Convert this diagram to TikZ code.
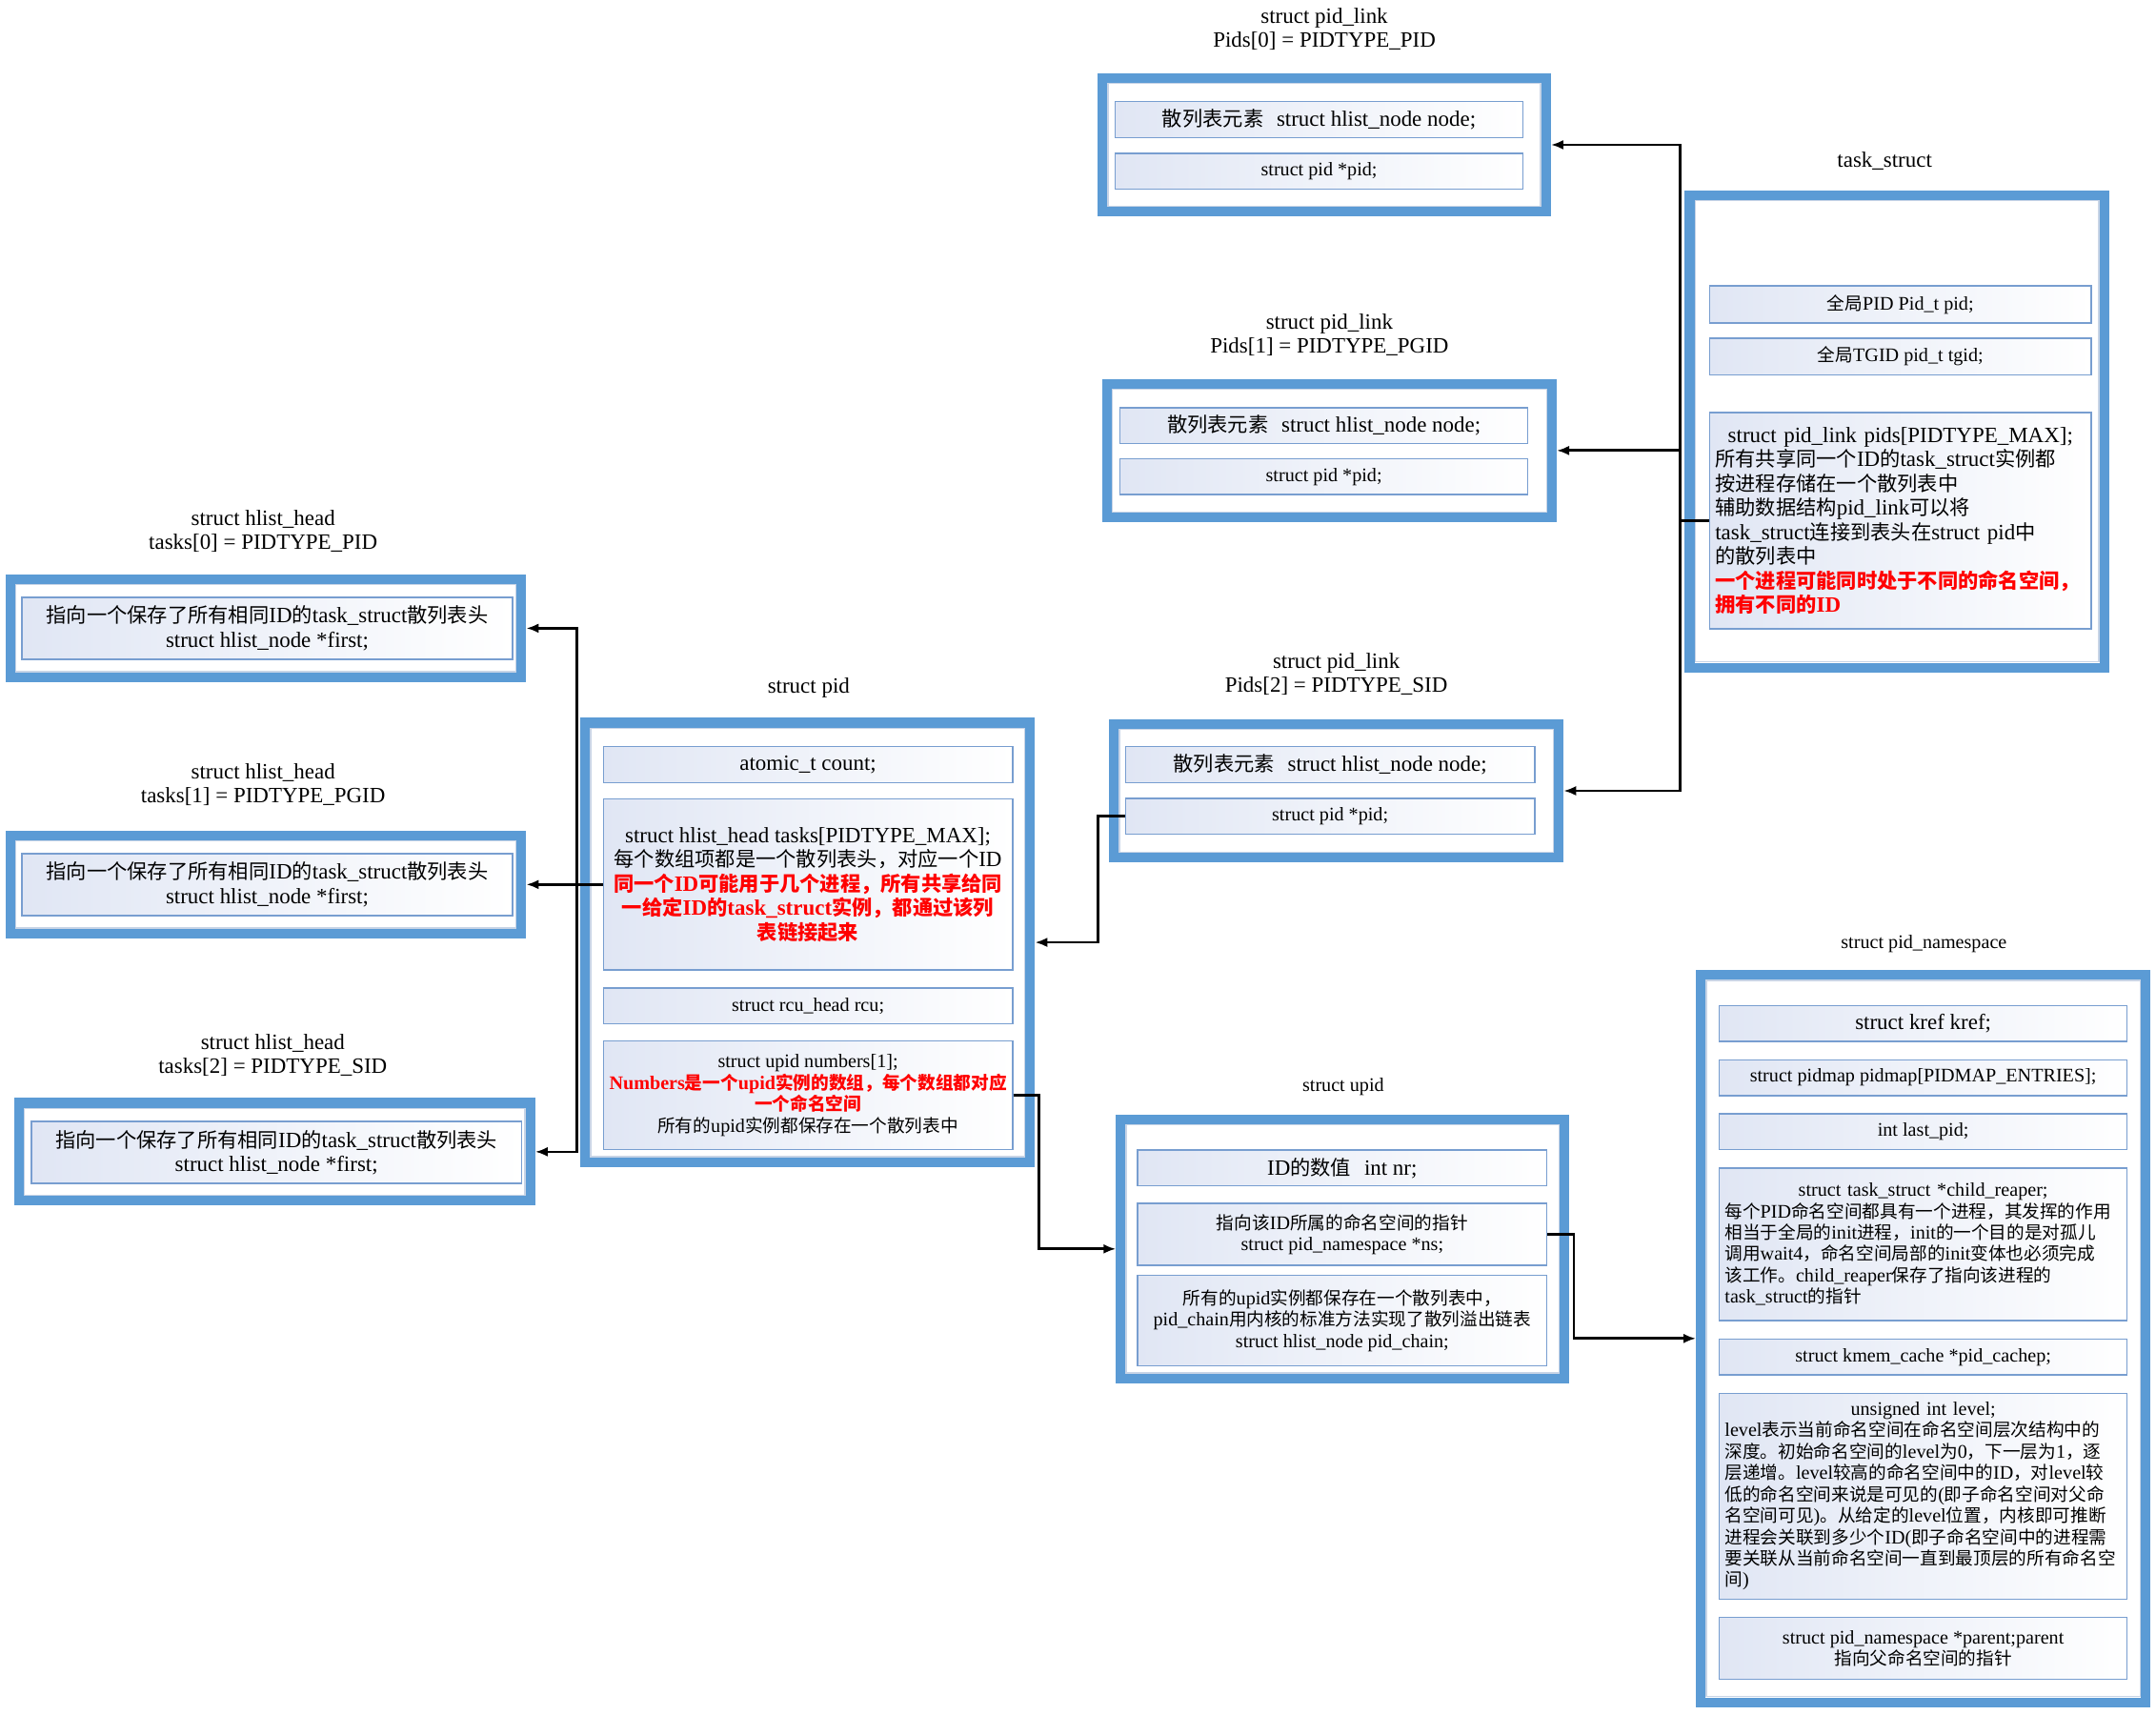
\documentclass[tikz,border=0pt]{standalone}
\usepackage{fontspec}
\usetikzlibrary{arrows.meta}
\setmainfont{Liberation Serif}[Scale=1.08]
\newfontfamily\cjkfam{Noto Sans CJK SC}
\XeTeXinterchartokenstate=1
\newXeTeXintercharclass\CJKcls
\makeatletter
\def\setcjkrange#1#2{\count@=#1\relax\loop\XeTeXcharclass\count@=\CJKcls\relax\ifnum\count@<#2\relax\advance\count@\@ne\repeat}
\setcjkrange{"3000}{"303F}
\setcjkrange{"4E00}{"9FFF}
\setcjkrange{"FF00}{"FFEF}
\makeatother
\XeTeXinterchartoks 0 \CJKcls={\cjkfam}
\XeTeXinterchartoks 4095 \CJKcls={\cjkfam}
\XeTeXinterchartoks \CJKcls 0={\rmfamily}
\XeTeXinterchartoks \CJKcls 4095={\rmfamily}
\definecolor{bordblue}{RGB}{91,155,213}
\definecolor{fldline}{RGB}{120,158,208}
\definecolor{fldfill}{RGB}{224,230,244}
\definecolor{innerln}{RGB}{200,212,230}
\newcommand\fL{\fontsize{14.7}{17.6}\selectfont}
\newcommand\fS{\fontsize{12.9}{15.5}\selectfont}
\newcommand\rb[1]{{\color{red}\bfseries #1}}
\newcommand\innerframe[1]{\draw[draw=innerln, line width=0.9pt] ([xshift=7.5pt,yshift=-7.5pt]#1.north west) rectangle ([xshift=-7.5pt,yshift=7.5pt]#1.south east);}
\begin{document}
\begin{tikzpicture}[x=1pt,y=-1pt,
  obox/.style={draw=bordblue, line width=7pt, fill=white, inner sep=0pt},
  fld/.style={draw=fldline, line width=1pt, left color=fldfill, right color=white, inner sep=3pt, align=center, font=\fS},
  fldL/.style={fld, font=\fL},
  ttl/.style={align=center, inner sep=0pt, font=\fL},
  ttlS/.style={ttl, font=\fS},
  conn/.style={draw=black, line width=1.9pt},
  arr/.style={conn, -{Latex[length=9pt,width=7pt]}}]
\fill[white] (0,0) rectangle (1565,1244.8);
\useasboundingbox (0,0) rectangle (1565,1244.8);

% ---- outer boxes ----
\node[obox, minimum width=322, minimum height=97] (pl0) at (961.3,105.1) {};
\node[obox, minimum width=323, minimum height=97] (pl1) at (965,327) {};
\node[obox, minimum width=323, minimum height=97] (pl2) at (970,574) {};
\node[obox, minimum width=301, minimum height=343] (task) at (1377,313) {};
\node[obox, minimum width=371, minimum height=71] (h0) at (193,456) {};
\node[obox, minimum width=371, minimum height=71] (h1) at (193,642) {};
\node[obox, minimum width=371.5, minimum height=71] (h2) at (199.3,836) {};
\node[obox, minimum width=323, minimum height=319] (pid) at (586.3,684) {};
\node[obox, minimum width=322, minimum height=188] (upid) at (974.5,906.5) {};
\node[obox, minimum width=323, minimum height=528] (pns) at (1396,971.5) {};
\innerframe{pl0}\innerframe{pl1}\innerframe{pl2}\innerframe{task}
\innerframe{h0}\innerframe{h1}\innerframe{h2}
\innerframe{pid}\innerframe{upid}\innerframe{pns}

% ---- titles ----
\node[ttl] (tpl0) at (961.3,21.3) {struct pid\_link\\Pids[0] = PIDTYPE\_PID};
\node[ttl] (tpl1) at (965,243) {struct pid\_link\\Pids[1] = PIDTYPE\_PGID};
\node[ttl] (tpl2) at (970,489.5) {struct pid\_link\\Pids[2] = PIDTYPE\_SID};
\node[ttl] (ttask) at (1368,117) {task\_struct};
\node[ttl] (th0) at (191,385.5) {struct hlist\_head\\tasks[0] = PIDTYPE\_PID};
\node[ttl] (th1) at (191,569.5) {struct hlist\_head\\tasks[1] = PIDTYPE\_PGID};
\node[ttl] (th2) at (198,766) {struct hlist\_head\\tasks[2] = PIDTYPE\_SID};
\node[ttl] (tpid) at (587,499) {struct pid};
\node[ttlS] (tupid) at (975,789) {struct upid};
\node[ttlS] (tpns) at (1396.5,685) {struct pid\_namespace};

% ---- pid_link fields ----
\node[fldL, minimum width=296, minimum height=26] (pl0a) at (957.5,86.8) {散列表元素\hspace{0.6em}struct hlist\_node node;};
\node[fld, minimum width=296, minimum height=26] (pl0b) at (957.5,124.4) {struct pid *pid;};
\node[fldL, minimum width=296, minimum height=26] (pl1a) at (961,309) {散列表元素\hspace{0.6em}struct hlist\_node node;};
\node[fld, minimum width=296, minimum height=26] (pl1b) at (961,346) {struct pid *pid;};
\node[fldL, minimum width=297, minimum height=26] (pl2a) at (965.5,555) {散列表元素\hspace{0.6em}struct hlist\_node node;};
\node[fld, minimum width=297, minimum height=26] (pl2b) at (965.5,592.5) {struct pid *pid;};

% ---- task_struct fields ----
\node[fld, minimum width=277, minimum height=27] (taska) at (1379.5,221) {全局PID Pid\_t pid;};
\node[fld, minimum width=277, minimum height=26.5] (taskb) at (1379.5,258.7) {全局TGID pid\_t tgid;};
\node[fldL, minimum width=277, minimum height=157, text width=269, align=left] (taskc) at (1379.5,378) {\makebox[\linewidth][c]{struct pid\_link pids[PIDTYPE\_MAX];}\\
所有共享同一个ID的task\_struct实例都\\
按进程存储在一个散列表中\\
辅助数据结构pid\_link可以将\\
task\_struct连接到表头在struct pid中\\
的散列表中\\
\rb{一个进程可能同时处于不同的命名空间，}\\
\rb{拥有不同的ID}};

% ---- hlist_head fields ----
\node[fldL, minimum width=356, minimum height=45] (h0a) at (194,456) {指向一个保存了所有相同ID的task\_struct散列表头\\struct hlist\_node *first;};
\node[fldL, minimum width=356, minimum height=45] (h1a) at (194,642) {指向一个保存了所有相同ID的task\_struct散列表头\\struct hlist\_node *first;};
\node[fldL, minimum width=355.5, minimum height=45] (h2a) at (200.7,836.5) {指向一个保存了所有相同ID的task\_struct散列表头\\struct hlist\_node *first;};

% ---- struct pid fields ----
\node[fldL, minimum width=297, minimum height=26] (pida) at (586.5,555) {atomic\_t count;};
\node[fldL, minimum width=297, minimum height=124] (pidb) at (586.5,642) {struct hlist\_head tasks[PIDTYPE\_MAX];\\每个数组项都是一个散列表头，对应一个ID\\\rb{同一个ID可能用于几个进程，所有共享给同}\\\rb{一给定ID的task\_struct实例，都通过该列}\\\rb{表链接起来}};
\node[fld, minimum width=297, minimum height=26] (pidc) at (586.5,730) {struct rcu\_head rcu;};
\node[fld, minimum width=297, minimum height=79] (pidd) at (586.5,795) {struct upid numbers[1];\\\rb{Numbers是一个upid实例的数组，每个数组都对应}\\\rb{一个命名空间}\\所有的upid实例都保存在一个散列表中};

% ---- struct upid fields ----
\node[fldL, minimum width=297, minimum height=26] (upa) at (974.3,847.7) {ID的数值\hspace{0.6em}int nr;};
\node[fld, minimum width=297, minimum height=45] (upb) at (974.3,896) {指向该ID所属的命名空间的指针\\struct pid\_namespace *ns;};
\node[fld, minimum width=297, minimum height=65.5] (upc) at (974.3,958.5) {所有的upid实例都保存在一个散列表中，\\pid\_chain用内核的标准方法实现了散列溢出链表\\struct hlist\_node pid\_chain;};

% ---- pid_namespace fields ----
\node[fldL, minimum width=296, minimum height=26] (nsa) at (1396,743) {struct kref kref;};
\node[fld, minimum width=296, minimum height=26] (nsb) at (1396,782.2) {struct pidmap pidmap[PIDMAP\_ENTRIES];};
\node[fld, minimum width=296, minimum height=26] (nsc) at (1396,821.5) {int last\_pid;};
\node[fld, minimum width=296, minimum height=110.6, text width=288, align=left] (nsd) at (1396,903.2) {\makebox[\linewidth][c]{struct task\_struct *child\_reaper;}\\
每个PID命名空间都具有一个进程，其发挥的作用\\
相当于全局的init进程，init的一个目的是对孤儿\\
调用wait4，命名空间局部的init变体也必须完成\\
该工作。child\_reaper保存了指向该进程的\\
task\_struct的指针};
\node[fld, minimum width=296, minimum height=26] (nse) at (1396,985) {struct kmem\_cache *pid\_cachep;};
\node[fld, minimum width=296, minimum height=149.6, text width=288, align=left] (nsf) at (1396,1086) {\makebox[\linewidth][c]{unsigned int level;}\\
level表示当前命名空间在命名空间层次结构中的\\
深度。初始命名空间的level为0，下一层为1，逐\\
层递增。level较高的命名空间中的ID，对level较\\
低的命名空间来说是可见的(即子命名空间对父命\\
名空间可见)。从给定的level位置，内核即可推断\\
进程会关联到多少个ID(即子命名空间中的进程需\\
要关联从当前命名空间一直到最顶层的所有命名空\\
间)};
\node[fld, minimum width=296, minimum height=45] (nsg) at (1396,1196.5) {struct pid\_namespace *parent;parent\\指向父命名空间的指针};

% ---- connectors ----
\coordinate (tbus) at (1219.5,378);
\draw[conn] (taskc.west) -- (tbus);
\draw[arr] (tbus) |- (pl0.east);
\draw[arr] (tbus) |- (pl1.east);
\draw[arr] (tbus) |- (pl2.east);

\coordinate (b2) at (797,592.5);
\draw[arr] (pl2b.west) -- (b2) |- (pid.east);

\coordinate (lbus) at (418.5,642);
\draw[arr] (pidb.west) -- (h1.east);
\draw[arr] (lbus) |- (h0.east);
\draw[arr] (lbus) |- (h2.east);

\coordinate (b3) at (754,795);
\draw[arr] (pidd.east) -- (b3) |- (upid.west);

\coordinate (b4) at (1142.5,896);
\draw[arr] (upb.east) -- (b4) |- (pns.west);
\end{tikzpicture}
\end{document}
